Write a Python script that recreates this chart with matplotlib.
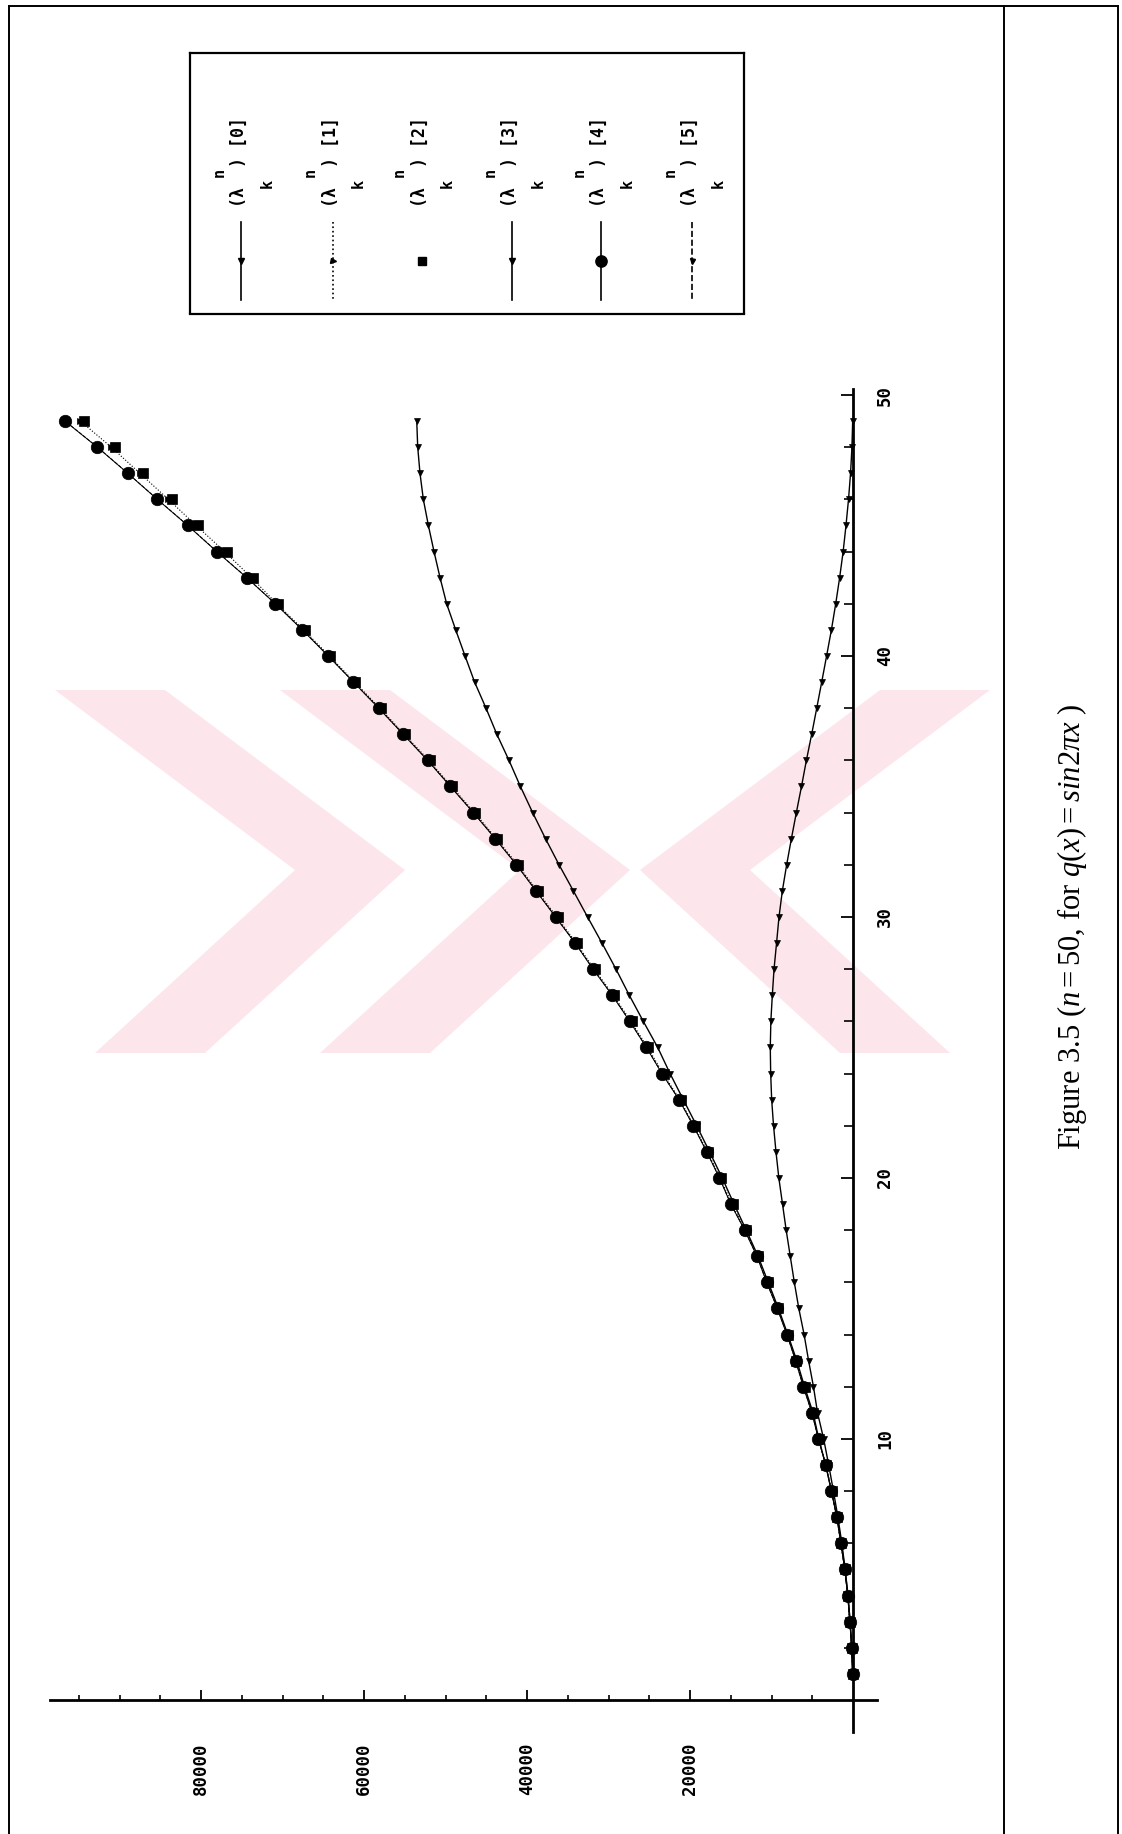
import matplotlib
matplotlib.use("Agg")
import matplotlib.pyplot as plt
from matplotlib.lines import Line2D
from matplotlib.patches import Polygon
from matplotlib.ticker import FixedLocator

# eigenvalue index k (drawn on the vertical axis, page is rotated)
k = list(range(1, 50))

# (lambda_k^n)[0] .. [5]
lam0 = [40, 155, 350, 620, 960, 1370, 1850, 2400, 2980, 3600, 4350, 4850, 5450, 6000, 6650,
        7200, 7700, 8200, 8650, 9100, 9450, 9750, 9980, 10100, 10150, 10080, 9900, 9690, 9380,
        9080, 8670, 8140, 7560, 6950, 6320, 5720, 5070, 4450, 3840, 3240, 2650, 2120, 1640,
        1210, 860, 550, 300, 130, 40]
lam1 = [40, 145, 390, 645, 1010, 1480, 1960, 2620, 3320, 4200, 5000, 6000, 7000, 8050, 9200,
        10500, 11700, 13200, 14850, 16300, 17850, 19500, 21250, 23300, 25200, 27250, 29400,
        31750, 33950, 36350, 38750, 41150, 43750, 46450, 49250, 52050, 55050, 58050, 61150,
        64250, 67400, 70700, 73800, 77100, 80600, 84000, 87500, 91000, 94800]
lam2 = [40, 140, 380, 640, 1000, 1460, 1950, 2600, 3300, 4150, 4950, 5950, 6950, 8000, 9150,
        10400, 11650, 13100, 14750, 16200, 17750, 19400, 21150, 23200, 25100, 27150, 29300,
        31650, 33850, 36250, 38650, 41050, 43650, 46350, 49150, 51950, 54950, 57950, 61050,
        64150, 67300, 70600, 73580, 76770, 80330, 83600, 87080, 90550, 94320]
lam3 = [40, 150, 360, 620, 980, 1450, 1950, 2650, 3350, 4200, 4900, 5950, 6900, 8000, 9150,
        10400, 11650, 13100, 14600, 16050, 17600, 19180, 20820, 22450, 23960, 25730, 27450,
        29080, 30800, 32570, 34310, 36070, 37730, 39310, 40810, 42210, 43700, 45030, 46430,
        47600, 48750, 49860, 50670, 51410, 52100, 52720, 53130, 53410, 53530]
lam4 = [40, 150, 400, 650, 1020, 1500, 2000, 2650, 3350, 4250, 5050, 6100, 7050, 8120, 9300,
        10600, 11800, 13300, 15000, 16400, 17950, 19600, 21350, 23450, 25350, 27400, 29550,
        31900, 34100, 36500, 38900, 41300, 43900, 46600, 49400, 52200, 55200, 58200, 61300,
        64400, 67570, 70880, 74390, 78070, 81630, 85360, 88990, 92720, 96690]
lam5 = [40, 150, 400, 650, 1020, 1490, 1990, 2640, 3340, 4240, 5040, 6080, 7040, 8100, 9280,
        10580, 11780, 13280, 14980, 16380, 17930, 19580, 21330, 23430, 25330, 27380, 29530,
        31880, 34080, 36480, 38880, 41280, 43880, 46580, 49380, 52180, 55180, 58180, 61280,
        64380, 67550, 70860, 74370, 78050, 81610, 85340, 88970, 92700, 96670]

series = [lam0, lam1, lam2, lam3, lam4, lam5]
series_tags = ["[0]", "[1]", "[2]", "[3]", "[4]", "[5]"]

k_ticks = [10, 20, 30, 40, 50]
value_ticks = [20000, 40000, 60000, 80000]
value_labels = ["20000", "40000", "60000", "80000"]

# line style, marker, marker size, line width
styles = [
    ("-", "v", 4.5, 1.0),
    (":", ">", 4.0, 0.8),
    ("none", "s", 7.0, 0.8),
    ("-", "v", 4.5, 1.0),
    ("-", "o", 9.0, 0.7),
    ("--", "v", 4.0, 0.7),
]

W, H = 1122, 1834
mono = "DejaVu Sans Mono"
tick_fs = 12.5
pink = "#fce6eb"

plt.rcParams["mathtext.fontset"] = "custom"
plt.rcParams["mathtext.rm"] = "Liberation Serif"
plt.rcParams["mathtext.it"] = "Liberation Serif:italic"

fig = plt.figure(figsize=(W / 100, H / 100), dpi=100)


def fx(px):
    return px / W


def fy(py):
    return 1 - py / H


# ---- faint watermark behind the page (scanned thesis stamp)
marks = [
    [(55, 690), (165, 690), (405, 870), (205, 1053), (95, 1053), (295, 870)],
    [(280, 690), (390, 690), (630, 870), (430, 1053), (320, 1053), (520, 870)],
    [(990, 690), (880, 690), (640, 870), (840, 1053), (950, 1053), (750, 870)],
]
for pts in marks:
    fig.add_artist(Polygon([(fx(a), fy(b)) for a, b in pts], closed=True,
                           facecolor=pink, edgecolor="none", transform=fig.transFigure,
                           zorder=-5))

# ---- main axes (value axis horizontal, reversed; index axis vertical)
ax = fig.add_axes([fx(50), fy(1732), fx(877 - 50), (1732 - 389) / H])
ax.patch.set_alpha(0)
for vals, (ls, mk, ms, lw) in zip(series, styles):
    ax.plot(vals, k, linestyle=ls, marker=mk, markersize=ms, linewidth=lw,
            color="black", markeredgewidth=0.5)

ax.set_xlim(98530, -2945)
ax.set_ylim(-1.23, 50.23)

for s in ["top", "left"]:
    ax.spines[s].set_visible(False)
ax.spines["right"].set_position(("data", 0))
ax.spines["bottom"].set_position(("data", 0))
ax.spines["right"].set_linewidth(2.0)
ax.spines["bottom"].set_linewidth(2.0)

ax.xaxis.set_major_locator(FixedLocator(value_ticks))
ax.xaxis.set_minor_locator(FixedLocator([v for v in range(5000, 100000, 5000) if v % 20000]))
ax.set_xticklabels(value_labels)
ax.yaxis.set_major_locator(FixedLocator(k_ticks))
ax.yaxis.set_minor_locator(FixedLocator([v for v in range(2, 50, 2) if v % 10]))
ax.yaxis.tick_right()

ax.tick_params(axis="x", which="major", direction="in", length=7, width=1.3, pad=31)
ax.tick_params(axis="x", which="minor", direction="in", length=3.6, width=1.2)
ax.tick_params(axis="y", which="major", direction="in", length=8.5, width=1.3, pad=16.5)
ax.tick_params(axis="y", which="minor", direction="in", length=6.5, width=1.2)

for lab in ax.get_xticklabels():
    lab.set_rotation(90)
    lab.set_fontfamily(mono)
    lab.set_fontweight("bold")
    lab.set_fontsize(tick_fs)
    lab.set_ha("center")
    lab.set_va("top")
for lab in ax.get_yticklabels():
    lab.set_rotation(90)
    lab.set_fontfamily(mono)
    lab.set_fontweight("bold")
    lab.set_fontsize(tick_fs)
    lab.set_ha("left")
    lab.set_va("center")

# ---- legend box (rotated, built by hand)
lx0, ly0, lx1, ly1 = 189.5, 52.6, 744, 313.5
lg = fig.add_axes([fx(lx0), fy(ly1), fx(lx1 - lx0), (ly1 - ly0) / H])
lg.set_xlim(lx0, lx1)
lg.set_ylim(ly1, ly0)
lg.set_xticks([])
lg.set_yticks([])
for s in lg.spines.values():
    s.set_linewidth(1.6)

cols = [241, 332.5, 421.5, 512, 601, 692]
for c, tag, (ls, mk, ms, lw) in zip(cols, series_tags, styles):
    if ls != "none":
        lg.plot([c, c], [222, 300], linestyle=ls, linewidth=1.2, color="black")
    lg.plot([c], [261], marker=mk, markersize=ms * 0.9, color="black", linestyle="none")
    lg.text(c - 2, 207, "(\u03bb  ) " + tag, rotation=90, rotation_mode="anchor",
            ha="left", va="center", fontfamily=mono, fontweight="bold", fontsize=12)
    lg.text(c - 22, 172, "n", rotation=90, ha="center", va="center",
            fontfamily=mono, fontweight="bold", fontsize=11)
    lg.text(c + 26, 183, "k", rotation=90, ha="center", va="center",
            fontfamily=mono, fontweight="bold", fontsize=11)

# ---- caption
fig.text(fx(1072), fy(927),
         r"Figure 3.5 ($\mathit{n{=}50}$, for $\mathit{q(x) = sin2\pi x}$ )",
         rotation=90, ha="center", va="center", fontfamily="Liberation Serif", fontsize=22)

# ---- page frame
frame = [((9, 1118), (6, 6)), ((9, 9), (6, 1834)), ((1004, 1004), (6, 1834)),
         ((1118, 1118), (6, 1834))]
for xs, ys in frame:
    fig.add_artist(Line2D([fx(xs[0]), fx(xs[1])], [fy(ys[0]), fy(ys[1])],
                          color="black", linewidth=1.4, transform=fig.transFigure))

fig.savefig("out.png", dpi=100)
